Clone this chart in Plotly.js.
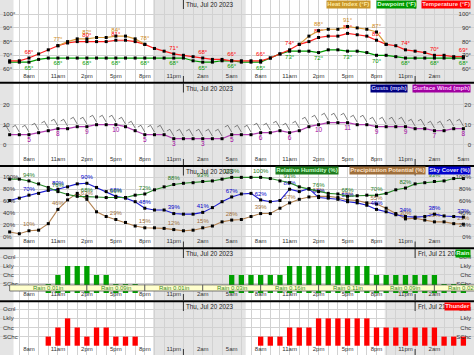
<!DOCTYPE html>
<html><head><meta charset="utf-8">
<script src="https://cdn.plot.ly/plotly-3.0.1.min.js"></script>
<style>html,body{margin:0;padding:0;background:#fff}#chart{width:474px;height:355px}</style>
</head><body><div id="chart"></div>
<script>
// ---------------- DATA ----------------
const hours = [6,7,8,9,10,11,12,13,14,15,16,17,18,19,20,21,22,23,24,25,26,27,28,29,
               30,31,32,33,34,35,36,37,38,39,40,41,42,43,44,45,46,47,48,49,50,51,52,53];
const hourTickLabels = ['8am','11am','2pm','5pm','8pm','11pm','2am','5am'];
const temperature = [66,66,68,71,74,77,79,80,80,80,80,81,81,80,78,75,73,71,70,69,68,67,67,66,
                     66,66,66,68,71,74,78,80,83,84,84,86,85,84,81,78,77,74,73,72,70,70,69,69];
const heatIndex = [null,null,null,null,null,77,80,82,82,83,83,84,84,82,78,null,null,null,null,null,null,null,null,null,
                   null,null,null,null,null,null,78,84,88,89,89,91,90,89,87,78,null,null,null,null,null,null,null,null];
const dewpoint = [65,65,65,67,68,68,68,68,68,68,68,68,68,68,68,68,68,68,68,66,65,65,66,66,
                  65,65,65,68,71,73,73,73,72,74,74,73,73,72,70,70,69,68,68,68,68,68,68,68];
const windSpeed = [5,5,5,6,7,8,8,9,9,10,10,10,9,7,5,5,5,3,3,3,3,3,3,5,
                   5,5,6,6,7,6,7,9,10,11,11,11,10,10,9,9,9,9,8,8,7,7,8,8];
const relHumidity = [97,97,94,89,83,76,71,68,68,67,66,66,66,70,72,79,84,88,90,91,93,94,97,100,
                     100,100,100,98,94,91,84,80,76,73,72,68,69,70,70,73,79,82,89,91,93,94,98,98];
const skyCover = [61,65,70,73,78,80,84,89,90,83,76,68,65,59,48,45,45,39,38,38,41,49,59,67,
                  72,73,62,59,61,80,76,81,66,65,63,59,57,53,46,42,37,34,33,34,38,35,34,33];
const precipPotential = [8,5,10,11,22,46,62,73,63,42,34,29,24,18,15,15,14,12,10,11,15,18,25,28,
                         29,34,39,39,48,57,63,67,68,68,66,62,61,57,55,48,39,30,31,28,25,25,22,21];
// 0 none, 1 SChc, 2 Chc, 3 Lkly, 4 Ocnl
const rainChance = [0,0,0,0,1,2,3,3,3,2,2,1,1,1,0,0,0,0,0,0,0,0,0,2,
                    2,2,2,2,2,3,3,3,3,3,3,3,3,3,2,2,2,2,2,2,2,1,1,1];
const thunderChance = [0,0,0,0,1,2,3,2,1,2,2,1,1,1,0,0,0,0,0,0,0,0,0,0,
                       0,0,1,1,1,2,2,2,3,3,3,3,3,3,2,2,2,2,2,2,2,1,1,1];
const chanceTicks = [1,2,3,4];
const chanceLabels = ['SChc','Chc','Lkly','Ocnl'];
const qpfStart = [6,14,20,26,32,38,44,50];
const qpfEnd   = [14,20,26,32,38,44,50,56];
const qpfText  = ['Rain 0.01in','Rain 0.09in','Rain 0.01in','Rain 0.03in','Rain 0.16in','Rain 0.11in','Rain 0.09in','Rain 0.02in'];
const nightStart = [4, 20.85, 44.85];
const nightEnd   = [6.4, 30.45, 56];
const midnights = [24, 48];
const tempTicks = [60,70,80,90,100];
const windTicks = [0,10,20];
const pctTicks = [0,20,40,60,80,100];

// ---------------- BUILD ----------------
const H = 355, W = 474;
const panels = [{t:0,b:82,r:[50.51,110.36]},{t:83.5,b:165,r:[-10.15,30.6]},{t:166.5,b:247.5,r:[-18.2,118.3]},
                {t:249,b:300,r:[-0.78,4.89]},{t:302,b:355,r:[-1.02,4.8]}];
const dom = p => [1-p.b/H, 1-p.t/H];
const hourText = hours.map(h => ((h-8)%3===0 && h>=8) ? hourTickLabels[((h-8)/3)%8] : '');
const every3 = (arr, fmt) => arr.map((v,i) => (i%3===2 && v!==null && v!==0) ? fmt(v) : '');

const FONT = 'Liberation Sans, Arial, sans-serif';
const grid = '#d2d2d2';
const layout = {width:W, height:H, margin:{l:0,r:0,t:0,b:0}, showlegend:false,
  paper_bgcolor:'#fff', plot_bgcolor:'#fff', font:{family:FONT, size:6, color:'#333'},
  shapes:[], annotations:[]};

const yTicks = [[tempTicks, tempTicks.map(v=>v+'°')],[windTicks, windTicks.map(String)],
                [pctTicks, pctTicks.map(v=>v+'%')],[chanceTicks, chanceLabels],[chanceTicks, chanceLabels]];
panels.forEach((p,k) => {
  const n = k===0 ? '' : String(k+1);
  layout['xaxis'+n] = {domain:[0,1], range:[5,54.1], anchor:'y'+n, tickmode:'array', tickvals:hours, ticktext:hourText,
    ticklabelposition:'inside', ticks:'', showgrid:true, gridcolor:grid, gridwidth:1, zeroline:false, showline:false,
    tickfont:{size:6, color:'#333'}, fixedrange:true};
  if (k>0) layout['xaxis'+n].matches = 'x';
  const yt = yTicks[k];
  layout['yaxis'+n] = {domain:dom(p), range:p.r, anchor:'x'+n, tickmode:'array', tickvals:yt[0], ticktext:yt[1],
    ticklabelposition:'inside', ticks:'', showgrid:true, gridcolor:grid, zeroline:false, showline:false,
    tickfont:{size:6, color:'#333'}, fixedrange:true};
  layout['yaxis'+(k+6)] = {overlaying:'y'+n, side:'right', range:p.r, anchor:'x'+n, tickmode:'array', tickvals:yt[0], ticktext:yt[1],
    ticklabelposition:'inside', ticks:'', showgrid:false, zeroline:false, showline:false,
    tickfont:{size:6, color:'#333'}, fixedrange:true};
  const ph = p.b - p.t;
  nightStart.forEach((s,j) => layout.shapes.push({type:'rect', layer:'below', xref:'x'+n, yref:'y'+n+' domain',
    x0:s, x1:nightEnd[j], y0:0, y1:1, fillcolor:'#e4e4e4', line:{width:0}}));
  midnights.forEach(m => {
    layout.shapes.push({type:'line', xref:'x'+n, yref:'y'+n+' domain', x0:m, x1:m, y0:0, y1:6/ph, line:{color:'#333', width:1}});
    layout.shapes.push({type:'line', xref:'x'+n, yref:'y'+n+' domain', x0:m, x1:m, y0:1-9/ph, y1:1, line:{color:'#333', width:1}});
  });
  layout.annotations.push({text:'Thu, Jul 20 2023', xref:'x'+n, x:24.15, xanchor:'left', yref:'y'+n+' domain', y:1, yanchor:'top',
    showarrow:false, font:{size:6.3, color:'#222'}, borderpad:0});
  if (k>=3) layout.annotations.push({text:'Fri, Jul 21 2023', xref:'x'+n, x:48.15, xanchor:'left', yref:'y'+n+' domain', y:1, yanchor:'top',
    showarrow:false, font:{size:6.3, color:'#222'}, borderpad:0});
});
// separators
[82.8, 166, 248.3, 301.2].forEach(py => layout.shapes.push({type:'line', xref:'paper', yref:'paper', x0:0, x1:1,
  y0:1-py/H, y1:1-py/H, line:{color:'#000', width:2}}));
// QPF band
qpfStart.forEach((s,j) => {
  layout.shapes.push({type:'rect', layer:'above', xref:'x4', yref:'y4', x0:s, x1:qpfEnd[j], y0:0.22, y1:0.9,
    fillcolor:'#ffffcc', line:{color:'#555', width:0.8}});
  layout.annotations.push({text:qpfText[j], xref:'x4', x:(s+qpfEnd[j])/2, yref:'y4', y:0.56, showarrow:false,
    font:{size:6, color:'#3a8a2a'}, borderpad:0});
});
// legend boxes
function legend(txt, xr, ytop, bg, fc){
  layout.annotations.push({text:'<b>'+txt+'</b>', xref:'paper', x:xr/W, xanchor:'right', yref:'paper', y:1-ytop/H, yanchor:'top',
    showarrow:false, bgcolor:bg, font:{size:6, color:fc}, borderpad:0.3});
}
legend('Heat Index (°F)', 371, 0, '#c8962a', '#ffe9a0');
legend('Dewpoint (°F)', 416.5, 0, '#009900', '#d8ffd8');
legend('Temperature (°F)', 471, 0, '#ff0000', '#ffd8d8');
legend('Gusts (mph)', 408, 83.5, '#000080', '#c8c8ff');
legend('Surface Wind (mph)', 471, 83.5, '#a000a0', '#ffc8ff');
legend('Relative Humidity (%)', 339, 166, '#1e7b1e', '#c8ffc8');
legend('Precipitation Potential (%)', 426, 166, '#a0703c', '#ffe4c8');
legend('Sky Cover (%)', 471, 166, '#0000cc', '#e0e0ff');
legend('Rain', 471, 249.5, '#00a000', '#e0ffe0');
legend('Thunder', 471, 302, '#ff0000', '#ffe0e0');

// ---------------- TRACES ----------------
const mk = {color:'#000', size:3, symbol:'square'};
const tempLabels = temperature.map((v,i) => (i%3===2 && (heatIndex[i]===null || heatIndex[i]!==v)) ? v+'°' : '');
const traces = [
  {x:hours, y:dewpoint, xaxis:'x', yaxis:'y', mode:'lines+markers+text', line:{color:'#009900', width:1.2}, marker:mk,
   text:every3(dewpoint, v=>v+'°'), textposition:'bottom center', textfont:{size:6, color:'#009900'}, cliponaxis:false},
  {x:hours, y:temperature, xaxis:'x', yaxis:'y', mode:'lines+markers+text', line:{color:'#ff2020', width:1.2}, marker:mk,
   text:tempLabels, textposition:'top center', textfont:{size:6, color:'#ff0000'}, cliponaxis:false},
  {x:hours, y:heatIndex, xaxis:'x', yaxis:'y', mode:'lines+markers+text', line:{color:'#d89a3a', width:1.2}, marker:mk,
   text:every3(heatIndex, v=>v+'°'), textposition:'top center', textfont:{size:6, color:'#d08a20'}, cliponaxis:false},
  // wind barbs (shaft + feather)
  {x:hours.map(h=>h-0.2), y:windSpeed.map(v=>v+3.0), xaxis:'x2', yaxis:'y2', mode:'markers', hoverinfo:'skip',
   marker:{symbol:'line-ns', size:5.5, angle:-30, line:{color:'#707070', width:0.9}}},
  {x:hours.map(h=>h-0.55), y:windSpeed.map(v=>v+4.3), xaxis:'x2', yaxis:'y2', mode:'markers', hoverinfo:'skip',
   marker:{symbol:'line-ns', size:2.6, angle:60, line:{color:'#707070', width:0.9}}},
  {x:hours, y:windSpeed, xaxis:'x2', yaxis:'y2', mode:'lines+markers+text', line:{color:'#b040b0', width:1.2}, marker:mk,
   text:every3(windSpeed, v=>String(v)), textposition:'bottom center', textfont:{size:6.5, color:'#a000a0'}, cliponaxis:false},
  {x:hours, y:precipPotential, xaxis:'x3', yaxis:'y3', mode:'lines+markers+text', line:{color:'#b08050', width:1.1}, marker:mk,
   text:every3(precipPotential, v=>v+'%'), textposition:'top center', textfont:{size:6, color:'#a0703c'}, cliponaxis:false},
  {x:hours, y:skyCover, xaxis:'x3', yaxis:'y3', mode:'lines+markers+text', line:{color:'#2020d0', width:1.1}, marker:mk,
   text:every3(skyCover, v=>v+'%'), textposition:'top center', textfont:{size:6, color:'#0000cc'}, cliponaxis:false},
  {x:hours, y:relHumidity, xaxis:'x3', yaxis:'y3', mode:'lines+markers+text', line:{color:'#2a8a2a', width:1.1}, marker:mk,
   text:every3(relHumidity, v=>v+'%'), textposition:'top center', textfont:{size:6, color:'#1e7b1e'}, cliponaxis:false},
  {type:'bar', x:hours, y:rainChance, xaxis:'x4', yaxis:'y4', width:0.55, marker:{color:'#00a000', line:{width:0}}, hoverinfo:'skip'},
  {type:'bar', x:hours, y:thunderChance, xaxis:'x5', yaxis:'y5', width:0.55, marker:{color:'#ff0000', line:{width:0}}, hoverinfo:'skip'}
];
// invisible anchors for the right-side tick axes
[['x','y6',tempTicks[0]],['x2','y7',windTicks[0]],['x3','y8',pctTicks[0]],['x4','y9',chanceTicks[0]],['x5','y10',chanceTicks[0]]]
  .forEach(a => traces.push({x:[hours[0]], y:[a[2]], xaxis:a[0], yaxis:a[1], mode:'markers', marker:{opacity:0, size:1}, hoverinfo:'skip'}));

Plotly.newPlot('chart', traces, layout, {staticPlot:true, displayModeBar:false});
</script></body></html>
